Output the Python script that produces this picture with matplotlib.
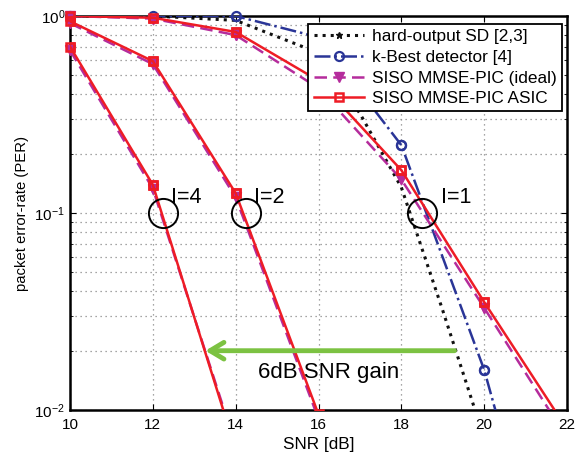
import numpy as np
import matplotlib
matplotlib.use("Agg")
import matplotlib.pyplot as plt
from matplotlib.lines import Line2D

plt.rcParams['font.family'] = ['Liberation Sans', 'DejaVu Sans']

# hard-output sphere decoder
sd_snr = [10, 12, 14, 16, 17, 18, 19, 20]
sd_per = [1.0, 1.0, 0.95, 0.65, 0.32, 0.135, 0.032, 0.0072]

# k-best detector
kb_snr = [10, 12, 14, 16, 18, 20, 21]
kb_per = [1.0, 1.0, 1.0, 0.78, 0.221, 0.016, 0.0028]

# SISO MMSE-PIC, I=1,2,4 iterations
snr_i1 = [10, 12, 14, 16, 18, 20, 22]
ideal_i1 = [1.0, 0.97, 0.80, 0.43, 0.148, 0.033, 0.0072]
asic_i1 = [1.0, 0.98, 0.83, 0.47, 0.165, 0.0353, 0.008]

snr_i2 = [10, 12, 14, 16]
ideal_i2 = [0.92, 0.57, 0.12, 0.009]
asic_i2 = [0.94, 0.59, 0.126, 0.0095]

snr_i4 = [10, 12, 14]
ideal_i4 = [0.67, 0.133, 0.0066]
asic_i4 = [0.70, 0.139, 0.0063]

# iteration markers (circles) and labels
iter_labels = ['I=4', 'I=2', 'I=1']
iter_x = [12.25, 14.25, 18.5]
iter_text_x = [12.45, 14.45, 18.95]

fig = plt.figure(figsize=(5.77, 4.57), dpi=100)
ax = fig.add_axes([0.1213, 0.1028, 0.8614, 0.8622])

black = '#111111'
blue = '#2a3597'
purple = '#b52c9c'
red = '#ee1c25'

def curve(x, y, **kw):
    h, = ax.plot(x, y, **kw)
    # markers on the frame edge are drawn unclipped
    if kw.get('marker'):
        xs = [a for a, b in zip(x, y) if b >= 0.01]
        ys = [b for b in y if b >= 0.01]
        ax.plot(xs, ys, linestyle='none', marker=kw.get('marker'), ms=kw.get('ms'),
                mfc=kw.get('mfc', kw.get('color')), mec=kw.get('color'),
                mew=kw.get('mew', 1), color=kw.get('color'), clip_on=False,
                zorder=kw.get('zorder', 2))
    return h

curve(sd_snr, sd_per, color=black, ls=':', lw=2.2, zorder=2)
h_sd = Line2D([], [], color=black, ls=':', lw=2.2, marker='*', ms=5)
h_kb = curve(kb_snr, kb_per, color=blue, ls='-.', lw=1.8, marker='o', ms=6.5,
             mfc='none', mew=1.6, zorder=3)
for s, p in [(snr_i1, ideal_i1), (snr_i2, ideal_i2), (snr_i4, ideal_i4)]:
    h_id = curve(s, p, color=purple, ls=(0, (5, 2.5)), lw=1.8, marker='v', ms=7, zorder=4)
for s, p in [(snr_i1, asic_i1), (snr_i2, asic_i2), (snr_i4, asic_i4)]:
    h_as = curve(s, p, color=red, ls='-', lw=1.8, marker='s', ms=6,
                 mfc='none', mew=1.8, zorder=5)

# iteration circles
ax.plot(iter_x, [0.1] * 3, linestyle='none', marker='o', ms=21, mfc='none',
        mec='black', mew=1.4, zorder=6)
for lab, tx in zip(iter_labels, iter_text_x):
    ax.text(tx, 0.12, lab, fontsize=15.5, va='center', ha='left', zorder=7)

# gain arrow
ax.annotate('', xy=(13.2, 0.02), xytext=(19.35, 0.02),
            arrowprops=dict(arrowstyle='->,head_length=1.0,head_width=0.6',
                            color='#7cc242', lw=3.5), zorder=7)
ax.text(16.25, 0.0155, '6dB SNR gain', fontsize=16, ha='center', va='center', zorder=7)

ax.set_yscale('log')
ax.set_xlim(10, 22)
ax.set_ylim(0.01, 1)
ax.set_xticks(np.arange(10, 23, 2))
ax.tick_params(which='both', direction='in', labelsize=11, top=True, right=True)
ax.tick_params(which='major', length=4)
ax.tick_params(axis='x', which='major', pad=6)
ax.tick_params(which='minor', length=2)
ax.grid(True, which='major', ls=(0, (1, 3)), color='#888888', lw=0.9)
ax.grid(True, which='minor', axis='y', ls=(0, (1, 3)), color='#888888', lw=0.9)
for sp in ax.spines.values():
    sp.set_linewidth(1.8)
ax.set_xlabel('SNR [dB]', fontsize=12.3, labelpad=3)
ax.set_ylabel('packet error-rate (PER)', fontsize=10.7, labelpad=4)

leg = ax.legend([h_sd, h_kb, h_id, h_as],
                ['hard-output SD [2,3]', 'k-Best detector [4]',
                 'SISO MMSE-PIC (ideal)', 'SISO MMSE-PIC ASIC'],
                loc='upper right', bbox_to_anchor=(0.990, 0.980),
                fontsize=12.4, fancybox=False, framealpha=1,
                edgecolor='black', borderaxespad=0, handlelength=2.9,
                labelspacing=0.33, borderpad=0.3, handletextpad=0.5)
leg.get_frame().set_linewidth(1.3)
leg.set_zorder(10)

fig.savefig('out.png', dpi=100)
